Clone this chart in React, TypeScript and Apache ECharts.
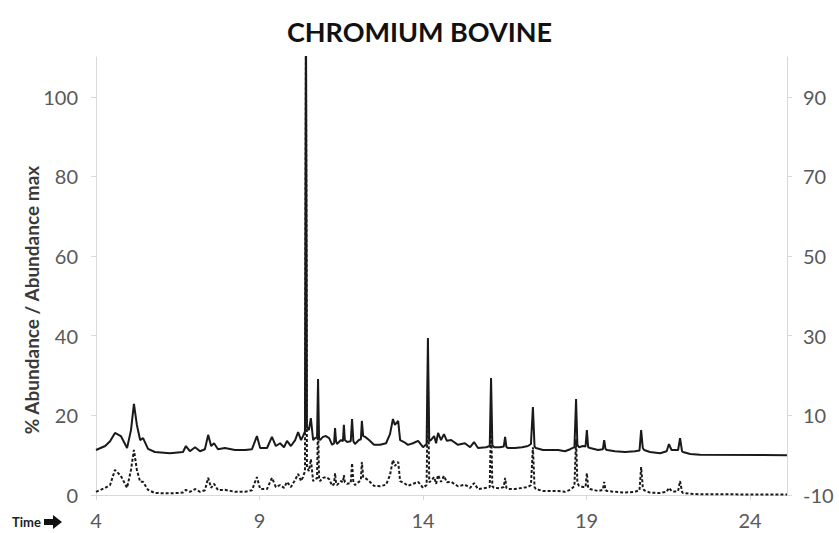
import React, { useEffect, useRef } from "react";
import * as echarts from "echarts";

// Retention time (minutes)
const times = [
  4.0, 4.28, 4.43, 4.58, 4.76, 4.95, 5.07, 5.16, 5.25, 5.35, 5.44, 5.59, 5.8, 6.26, 6.66, 6.75, 6.87, 7.03, 7.18, 7.33,
  7.43, 7.52, 7.61, 7.73, 7.94, 8.25, 8.56, 8.77, 8.92, 9.02, 9.23, 9.38, 9.5, 9.63, 9.75, 9.84, 9.96, 10.09, 10.18, 10.27,
  10.33, 10.39, 10.42, 10.45, 10.51, 10.57, 10.64, 10.7, 10.76, 10.79, 10.82, 10.85, 10.94, 11.03, 11.13, 11.22, 11.28, 11.31, 11.34, 11.37,
  11.49, 11.55, 11.58, 11.61, 11.68, 11.79, 11.83, 11.87, 11.92, 12.04, 12.1, 12.13, 12.17, 12.23, 12.35, 12.5, 12.69, 12.87, 12.99, 13.08,
  13.14, 13.24, 13.3, 13.42, 13.54, 13.69, 13.85, 14.0, 14.11, 14.15, 14.19, 14.24, 14.34, 14.4, 14.46, 14.55, 14.64, 14.73, 14.86, 15.07,
  15.28, 15.44, 15.56, 15.68, 15.93, 16.04, 16.08, 16.12, 16.17, 16.35, 16.47, 16.51, 16.55, 16.6, 16.81, 17.03, 17.21, 17.3, 17.36, 17.41,
  17.45, 17.67, 17.88, 18.13, 18.34, 18.5, 18.63, 18.68, 18.72, 18.77, 18.89, 18.97, 19.01, 19.05, 19.11, 19.35, 19.5, 19.54, 19.58, 19.63,
  19.87, 20.18, 20.48, 20.62, 20.67, 20.72, 20.76, 20.94, 21.25, 21.45, 21.52, 21.6, 21.65, 21.8, 21.86, 21.92, 21.95, 22.17, 22.47, 25.13,
];

// Solid trace (right axis units)
const solidValues = [
  1.3, 2.3, 3.5, 5.6, 4.8, 1.8, 6.3, 12.9, 7.6, 3.8, 4.3, 1.6, 0.8, 0.5, 0.8, 2.3, 1.0, 2.0, 1.0, 1.5,
  5.1, 2.3, 3.0, 1.5, 1.8, 1.3, 1.3, 1.5, 4.8, 1.8, 1.8, 4.6, 2.3, 3.0, 2.0, 3.6, 2.3, 3.8, 5.8, 3.8,
  4.8, 6.0, 115, 7.0, 6.3, 9.3, 3.8, 4.3, 4.5, 19.1, 4.2, 3.8, 4.6, 4.8, 4.3, 2.6, 3.0, 6.8, 3.5, 2.8,
  3.8, 3.5, 7.6, 3.8, 3.3, 3.5, 9.1, 3.5, 2.8, 3.8, 4.0, 8.6, 4.8, 4.6, 3.8, 2.6, 2.6, 3.0, 5.3, 9.1,
  7.6, 8.6, 3.8, 3.3, 2.6, 3.0, 3.6, 2.0, 2.8, 29.4, 3.5, 3.8, 4.8, 3.0, 5.6, 3.8, 5.3, 3.6, 3.8, 2.6,
  3.0, 2.0, 3.3, 1.8, 2.0, 2.3, 19.4, 2.5, 2.0, 2.0, 2.2, 4.6, 2.0, 1.8, 1.8, 2.0, 2.3, 2.8, 12.1, 2.2,
  1.8, 1.3, 1.3, 1.3, 1.0, 1.5, 2.0, 14.1, 2.6, 2.0, 2.3, 2.2, 6.3, 2.0, 1.8, 1.3, 1.5, 3.8, 1.5, 1.3,
  1.0, 0.8, 1.0, 1.2, 6.3, 1.8, 1.3, 0.8, 0.5, 1.0, 2.8, 1.3, 1.3, 1.3, 4.3, 1.0, 0.8, 0.3, 0.1, 0.0,
];

// Dashed trace (left axis units)
const dashedValues = [
  0.8, 1.8, 2.5, 6.3, 4.8, 1.8, 6.3, 11.3, 6.3, 3.3, 3.3, 1.3, 0.5, 0.4, 0.6, 1.3, 0.8, 1.5, 0.8, 1.2,
  4.3, 1.8, 2.8, 1.2, 1.3, 0.8, 0.8, 1.2, 4.5, 1.5, 1.5, 4.3, 2.0, 2.5, 1.8, 3.3, 2.0, 3.8, 5.3, 3.5,
  4.5, 6.0, 115, 7.0, 6.0, 9.0, 3.5, 4.0, 4.2, 18.8, 4.0, 3.5, 4.3, 4.5, 4.0, 2.3, 2.8, 5.5, 3.0, 2.5,
  3.5, 3.2, 5.0, 3.2, 2.8, 3.0, 8.0, 3.2, 2.5, 3.3, 3.8, 8.3, 4.5, 4.3, 3.5, 2.3, 2.2, 2.6, 5.0, 8.8,
  7.3, 8.3, 3.5, 3.0, 2.3, 2.8, 3.3, 1.8, 2.5, 29.0, 3.2, 3.5, 4.5, 2.8, 5.0, 3.3, 4.8, 3.2, 3.3, 2.2,
  2.6, 1.8, 3.0, 1.5, 1.8, 2.0, 19.0, 2.2, 1.8, 1.7, 2.0, 4.3, 1.8, 1.5, 1.5, 1.8, 2.0, 2.5, 12.0, 2.0,
  1.5, 1.0, 1.0, 1.0, 0.8, 1.3, 2.2, 14.0, 3.0, 2.3, 2.0, 2.0, 5.5, 1.8, 1.5, 1.0, 1.3, 3.3, 1.2, 1.0,
  0.8, 0.6, 0.8, 1.2, 7.0, 2.0, 1.2, 0.6, 0.5, 0.8, 1.8, 1.0, 0.8, 1.0, 3.5, 0.8, 0.5, 0.3, 0.2, 0.1,
];

const xTicks = [4, 9, 14, 19, 24];
const leftTicks = [0, 20, 40, 60, 80, 100];
const rightTicks = [-10, 10, 30, 50, 70, 90];

const FONT = "Lato, 'Open Sans', sans-serif";

export default function App() {
  const ref = useRef<HTMLDivElement>(null);
  useEffect(() => {
    document.body.style.margin = "0";
    const chart = echarts.init(ref.current!, null, { renderer: "svg" });
    const solidData = times.map((t, i) => [t, solidValues[i]]);
    const dashedData = times.map((t, i) => [t, dashedValues[i]]);
    const axisGray = "#d9d9d9";
    const labelStyle = { color: "#595959", fontSize: 20, fontFamily: FONT };
    chart.setOption({
      animation: false,
      title: {
        text: "CHROMIUM BOVINE",
        left: "center",
        top: 13,
        textStyle: { fontSize: 27, fontWeight: "bold", color: "#111", fontFamily: FONT },
      },
      grid: { left: 96, right: 52, top: 57, bottom: 38 },
      xAxis: {
        type: "value",
        min: 4,
        max: 25.13,
        axisLine: { show: true, lineStyle: { color: axisGray, width: 1 } },
        axisTick: { show: true, customValues: xTicks, length: 5, lineStyle: { color: axisGray } },
        axisLabel: { ...labelStyle, customValues: xTicks, margin: 15 },
        splitLine: { show: false },
      },
      yAxis: [
        {
          type: "value",
          position: "left",
          min: 0,
          max: 110,
          axisLine: { show: true, lineStyle: { color: axisGray } },
          axisTick: { show: true, customValues: leftTicks, length: 5, lineStyle: { color: axisGray } },
          axisLabel: { ...labelStyle, customValues: leftTicks, margin: 18 },
          splitLine: { show: false },
        },
        {
          type: "value",
          position: "right",
          min: -10,
          max: 100,
          axisLine: { show: true, lineStyle: { color: axisGray } },
          axisTick: { show: true, customValues: rightTicks, length: 5, lineStyle: { color: axisGray } },
          axisLabel: { ...labelStyle, customValues: rightTicks, margin: 16 },
          splitLine: { show: false },
        },
      ],
      series: [
        {
          name: "dashed",
          type: "line",
          yAxisIndex: 0,
          data: dashedData,
          showSymbol: false,
          clip: true,
          lineStyle: { color: "#1a1a1a", width: 2, type: [3, 2] },
        },
        {
          name: "solid",
          type: "line",
          yAxisIndex: 1,
          data: solidData,
          showSymbol: false,
          clip: true,
          lineStyle: { color: "#1a1a1a", width: 2 },
        },
      ],
      graphic: [
        {
          type: "text",
          x: 31,
          y: 300,
          rotation: Math.PI / 2,
          style: {
            text: "% Abundance / Abundance max",
            fontSize: 19,
            fontWeight: "bold",
            fontFamily: FONT,
            fill: "#3a3a3a",
            textAlign: "center",
            textVerticalAlign: "middle",
          },
        },
        {
          type: "text",
          x: 12,
          y: 522,
          style: {
            text: "Time",
            fontSize: 13,
            fontWeight: "bold",
            fontFamily: FONT,
            fill: "#222",
            textAlign: "left",
            textVerticalAlign: "middle",
          },
        },
        {
          type: "polygon",
          shape: {
            points: [
              [44, 519],
              [53, 519],
              [53, 515],
              [62, 522],
              [53, 529],
              [53, 525],
              [44, 525],
            ],
          },
          style: { fill: "#111" },
        },
      ],
    });
    return () => chart.dispose();
  }, []);
  return <div ref={ref} style={{ width: 839, height: 533 }} />;
}
